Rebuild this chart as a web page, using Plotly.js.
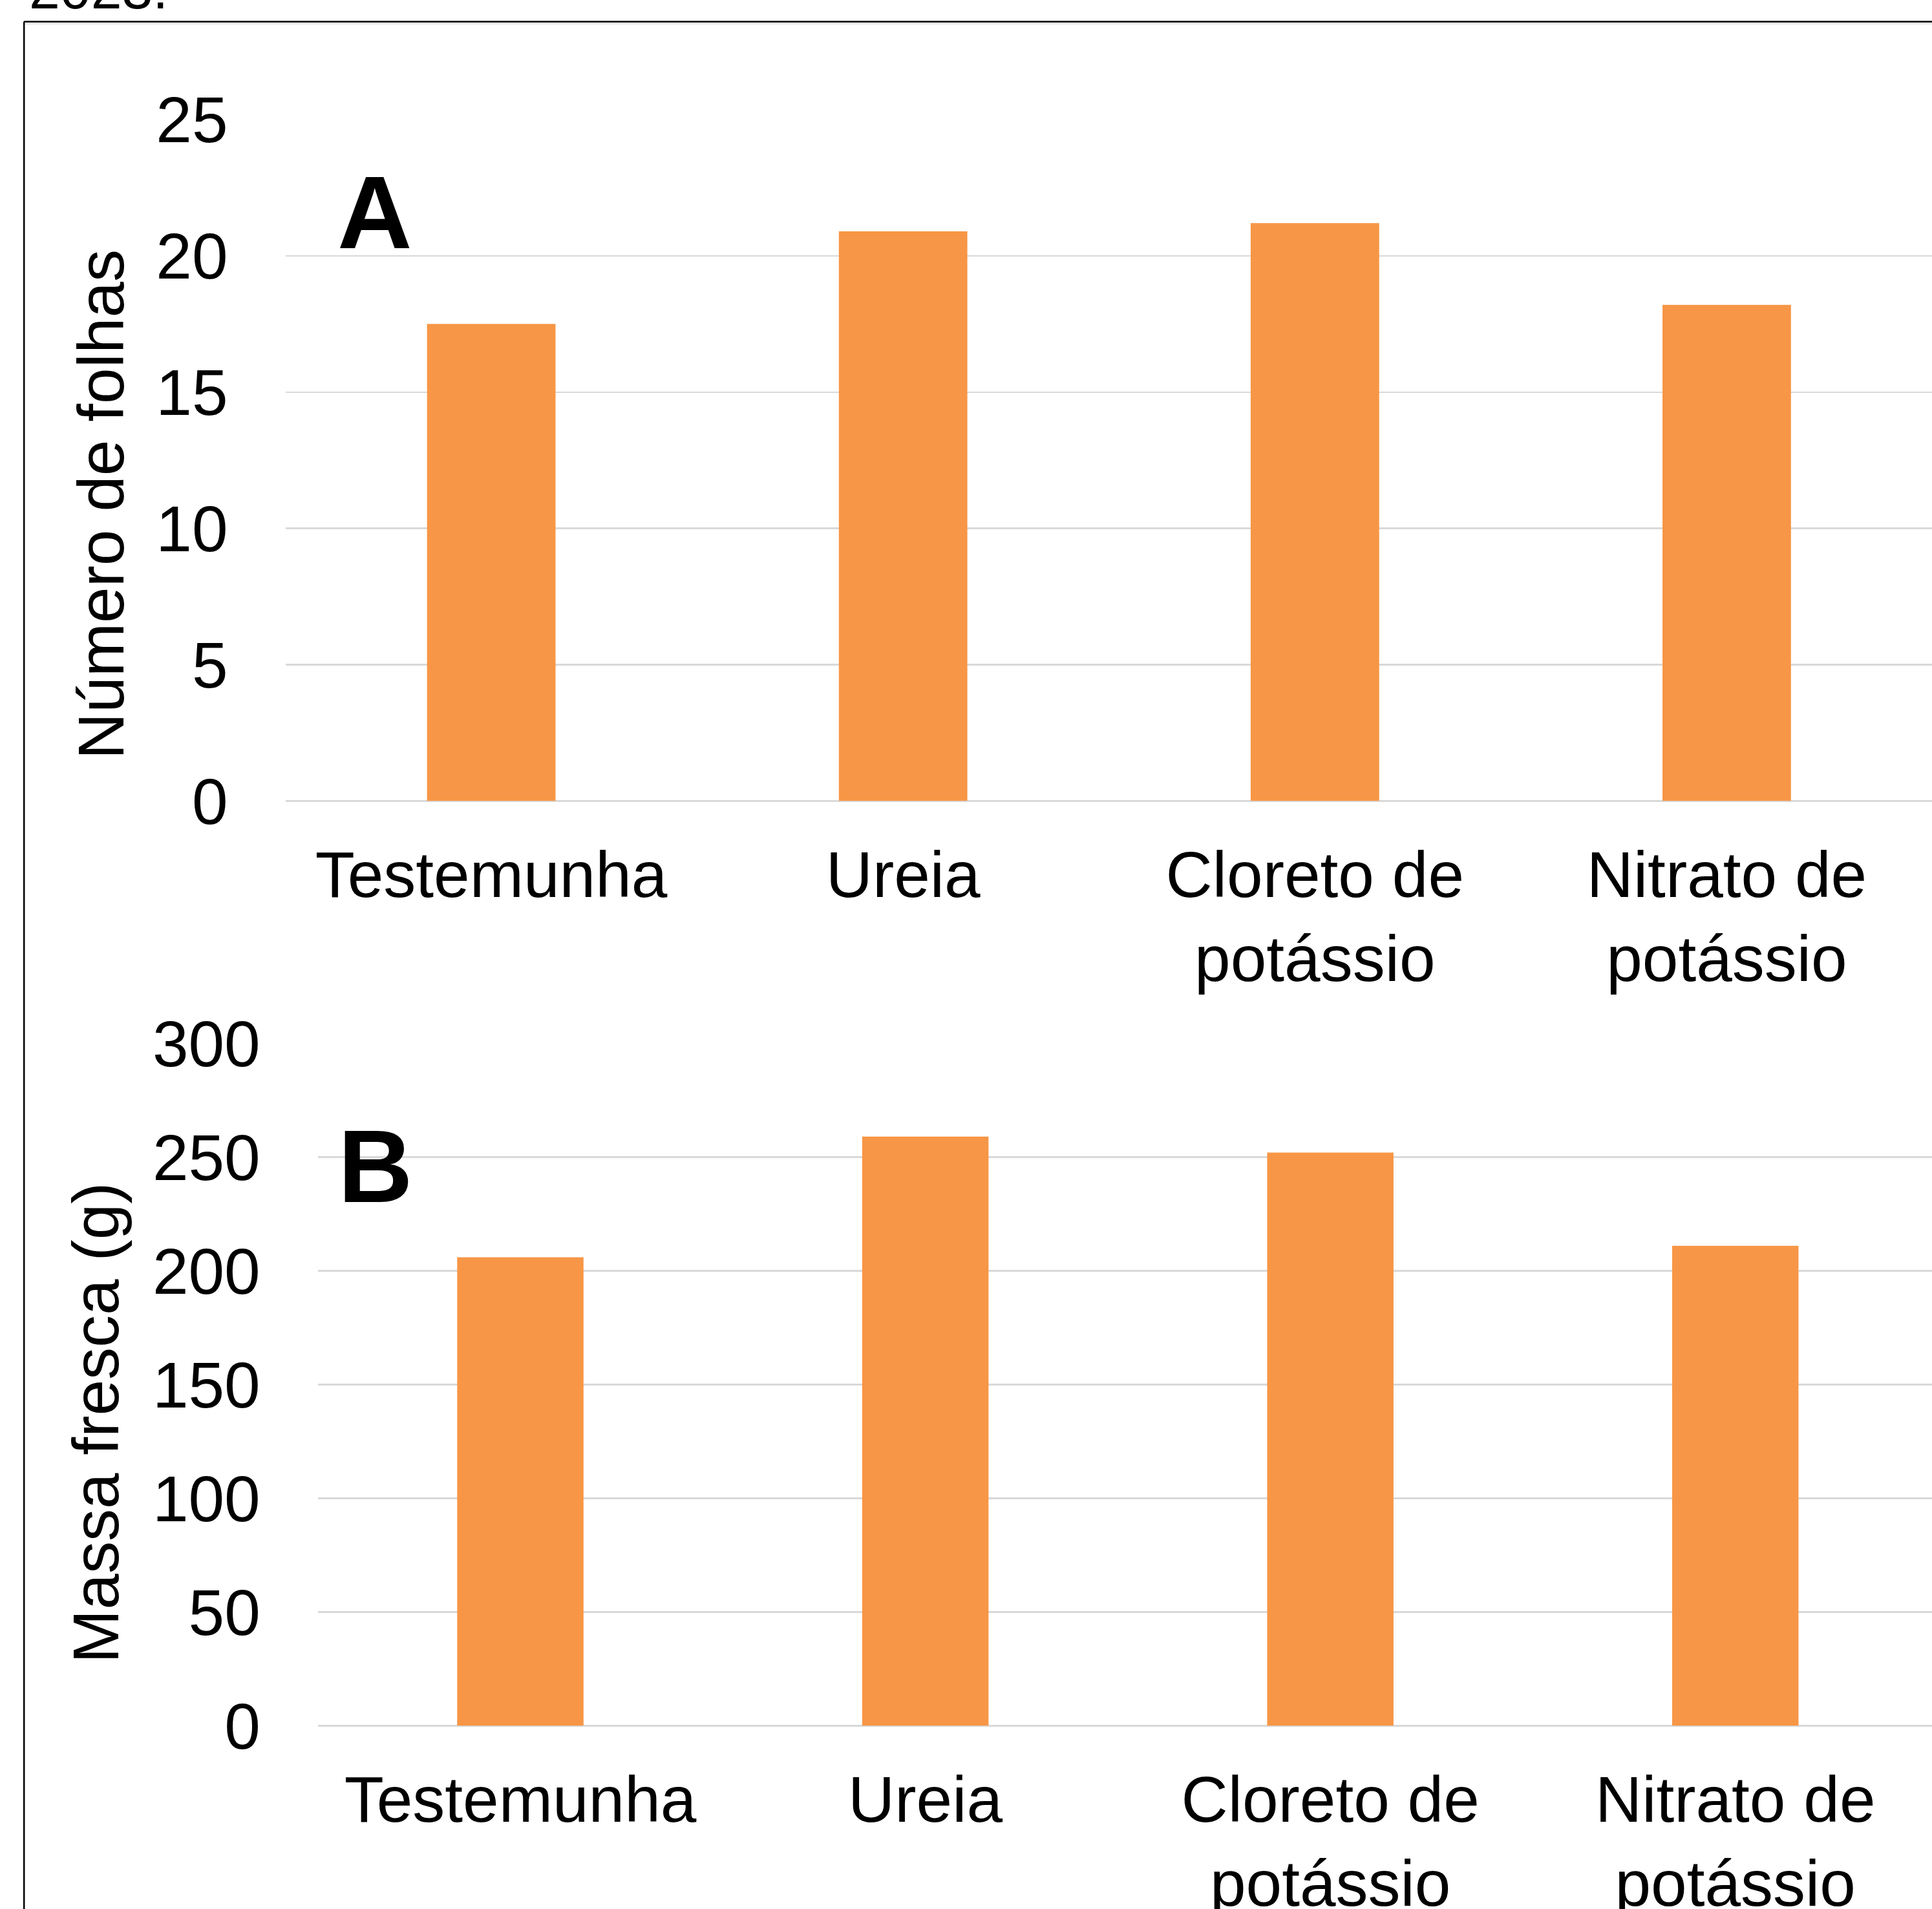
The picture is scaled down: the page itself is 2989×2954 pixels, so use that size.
<!DOCTYPE html>
<html>
<head>
<meta charset="utf-8">
<script src="https://cdn.plot.ly/plotly-3.0.1.min.js"></script>
<style>
html, body { margin:0; padding:0; overflow:hidden; background:#fff; }
#chart { width:2998px; height:2954px; }
</style>
</head>
<body>
<div id="chart"></div>
<script>
// ---- data ----
const categories = ["Testemunha", "Ureia", "Cloreto de potássio", "Nitrato de potássio"];
const tickLabels = ["Testemunha", "Ureia", "Cloreto de<br>potássio", "Nitrato de<br>potássio"];
const numeroFolhas = [17.5, 20.9, 21.2, 18.2];
const massaFresca = [206, 259, 252, 211];
const yTicksA = [0, 5, 10, 15, 20, 25];
const yTicksB = [0, 50, 100, 150, 200, 250, 300];
const titleA = "Número de folhas";
const titleB = "Massa fresca (g)";
const panelA = "A";
const panelB = "B";
const captionTail = "2023.";

// ---- layout helpers (pixel -> paper) ----
const W = 2998, H = 2954;
const px = x => x / W;
const py = y => 1 - y / H;

const FONT = "Liberation Sans, Arial, Helvetica, sans-serif";
const ORANGE = "#F79646";
const GRID = "#d9d9d9";

const traces = [
  { type: "bar", x: categories, y: numeroFolhas, xaxis: "x", yaxis: "y",
    marker: { color: ORANGE, line: { width: 0 } }, hoverinfo: "x+y" },
  { type: "bar", x: categories, y: massaFresca, xaxis: "x2", yaxis: "y2",
    marker: { color: ORANGE, line: { width: 0 } }, hoverinfo: "x+y" }
];

const xCommon = {
  type: "category", tickmode: "array", tickvals: categories, ticktext: tickLabels,
  showgrid: false, zeroline: false, showline: false, ticks: "",
  tickfont: { family: FONT, size: 100, color: "#000" }, ticklabelstandoff: 47,
  fixedrange: true
};
const yCommon = {
  showgrid: true, gridcolor: GRID, gridwidth: 2.5,
  zeroline: true, zerolinecolor: GRID, zerolinewidth: 2.5,
  showline: false, ticks: "",
  tickfont: { family: FONT, size: 100, color: "#000" }, ticklabelstandoff: 88,
  fixedrange: true
};

const layout = {
  width: W, height: H,
  margin: { l: 0, r: 0, t: 0, b: 0, pad: 0 },
  paper_bgcolor: "#fff", plot_bgcolor: "rgba(0,0,0,0)",
  showlegend: false, bargap: 0.688,
  font: { family: FONT, color: "#000" },
  xaxis: Object.assign({}, xCommon, { domain: [px(441.5), px(2990)], anchor: "y" }),
  yaxis: Object.assign({}, yCommon, { domain: [py(1239.5), py(185)], anchor: "x",
    range: [0, 25], tickmode: "array", tickvals: yTicksA }),
  xaxis2: Object.assign({}, xCommon, { domain: [px(491.75), 1], anchor: "y2" }),
  yaxis2: Object.assign({}, yCommon, { domain: [py(2670.5), py(1614.5)], anchor: "x2",
    range: [0, 300], tickmode: "array", tickvals: yTicksB }),
  annotations: [
    { text: titleA, xref: "paper", yref: "paper", x: px(155.7), y: py(780.5),
      xanchor: "center", yanchor: "middle", textangle: -90, showarrow: false,
      font: { family: FONT, size: 100, color: "#000" } },
    { text: titleB, xref: "paper", yref: "paper", x: px(148), y: py(2202),
      xanchor: "center", yanchor: "middle", textangle: -90, showarrow: false,
      font: { family: FONT, size: 100, color: "#000" } },
    { text: "<b>" + panelA + "</b>", xref: "paper", yref: "paper", x: px(520), y: py(328.6),
      xanchor: "left", yanchor: "middle", showarrow: false,
      font: { family: FONT, size: 160, color: "#000" } },
    { text: "<b>" + panelB + "</b>", xref: "paper", yref: "paper", x: px(521), y: py(1804.6),
      xanchor: "left", yanchor: "middle", showarrow: false,
      font: { family: FONT, size: 160, color: "#000" } },
    { text: captionTail, xref: "paper", yref: "paper", x: px(43), y: py(-17),
      xanchor: "left", yanchor: "middle", showarrow: false,
      font: { family: FONT, size: 86, color: "#000" } }
  ],
  shapes: [
    { type: "line", xref: "paper", yref: "paper", x0: px(37.2), x1: 1.05, y0: py(33.5), y1: py(33.5),
      line: { color: "#000", width: 2.5 }, layer: "above" },
    { type: "line", xref: "paper", yref: "paper", x0: px(37.2), x1: px(37.2), y0: py(33.5), y1: -0.05,
      line: { color: "#000", width: 2.5 }, layer: "above" },
    { type: "line", xref: "paper", yref: "paper", x0: px(39), x1: 1.05, y0: py(36.5), y1: py(36.5),
      line: { color: "#e8e8e8", width: 3 }, layer: "below" }
  ]
};

Plotly.newPlot("chart", traces, layout, { staticPlot: true, displayModeBar: false });
</script>
</body>
</html>
